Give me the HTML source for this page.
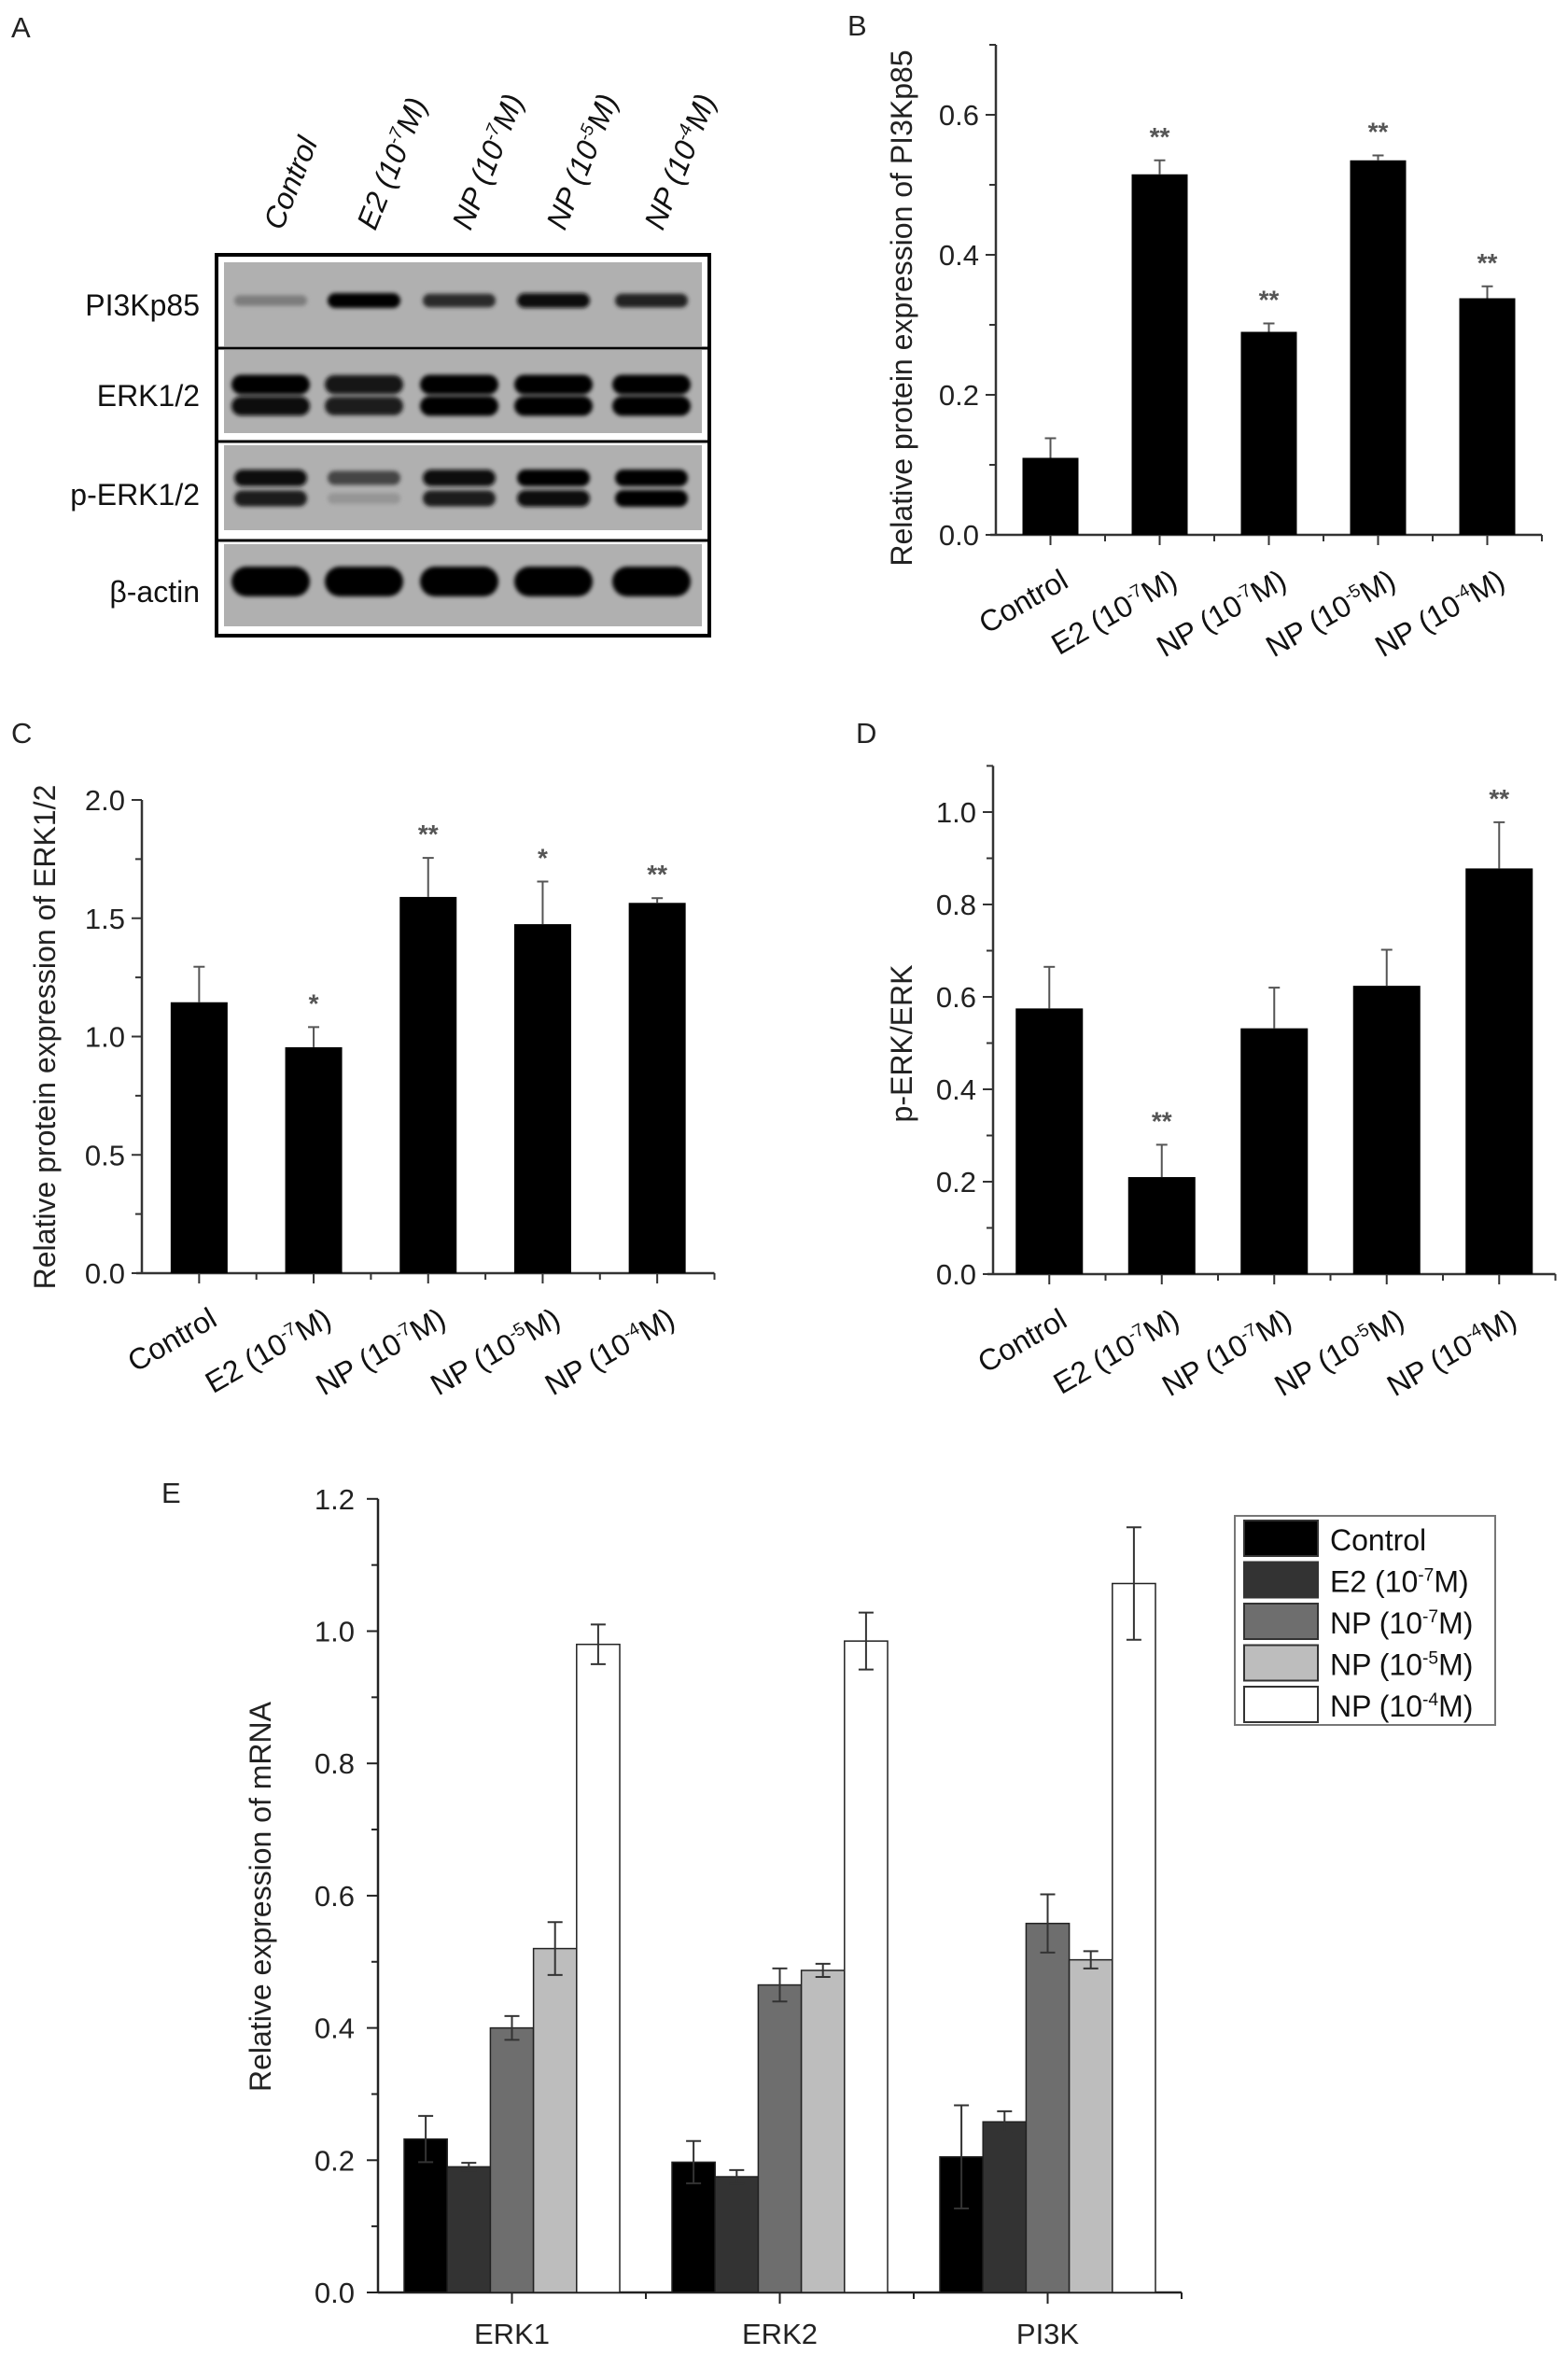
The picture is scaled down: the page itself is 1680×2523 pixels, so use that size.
<!DOCTYPE html>
<html><head><meta charset="utf-8"><style>
html,body{margin:0;padding:0;background:#fff;}
svg{display:block;font-family:"Liberation Sans",Arial,sans-serif;}
</style></head><body>
<svg id="fig" width="1680" height="2523" viewBox="0 0 1680 2523" xmlns="http://www.w3.org/2000/svg">
<defs><filter id="blur" x="-20%" y="-50%" width="140%" height="200%"><feGaussianBlur stdDeviation="2.2"/></filter></defs>
<g id="panelA"></g>
<g id="panelB"></g>
<g id="panelC"></g>
<g id="panelD"></g>
<g id="panelE"></g>
</svg>
<script>
// ---- data ----
const categories = ["Control","E2","NP","NP","NP"];
const catExp = [null,"-7","-7","-5","-4"];
const bValues = [0.11,0.515,0.29,0.535,0.338];
const bErrors = [0.028,0.02,0.012,0.007,0.017];
const bStars = ["","**","**","**","**"];
const bTicks = ["0.0","0.2","0.4","0.6"];
const cValues = [1.145,0.955,1.59,1.475,1.565];
const cErrors = [0.15,0.085,0.165,0.18,0.02];
const cStars = ["","*","**","*","**"];
const cTicks = ["0.0","0.5","1.0","1.5","2.0"];
const dValues = [0.575,0.21,0.532,0.624,0.878];
const dErrors = [0.09,0.07,0.088,0.078,0.1];
const dStars = ["","**","","","**"];
const dTicks = ["0.0","0.2","0.4","0.6","0.8","1.0"];
const eGroups = ["ERK1","ERK2","PI3K"];
const eSeries = ["Control","E2","NP","NP","NP"];
const eSeriesExp = [null,"-7","-7","-5","-4"];
const eControl = [0.232,0.197,0.205];
const eE2 = [0.19,0.175,0.258];
const eNP7 = [0.40,0.465,0.558];
const eNP5 = [0.52,0.487,0.503];
const eNP4 = [0.98,0.985,1.072];
const eControlErr = [0.035,0.032,0.078];
const eE2Err = [0.006,0.01,0.016];
const eNP7Err = [0.018,0.025,0.044];
const eNP5Err = [0.04,0.01,0.013];
const eNP4Err = [0.03,0.043,0.085];
const eTicks = ["0.0","0.2","0.4","0.6","0.8","1.0","1.2"];
const blotRows = ["PI3Kp85","ERK1/2","p-ERK1/2","β-actin"];
// band intensities per lane (0..1), visual estimates
const bandPI3K = [0.25,1,0.75,0.95,0.8];
const bandERKup = [1,0.9,1,1,1];
const bandERKlo = [0.95,0.85,1,1,1];
const bandPERKup = [0.95,0.6,0.95,1,1];
const bandPERKlo = [0.85,0.1,0.85,0.95,1];
const bandActin = [1,1,1,1,1];

const NS="http://www.w3.org/2000/svg";
function mk(tag,attrs,parent){const e=document.createElementNS(NS,tag);for(const k in attrs)e.setAttribute(k,attrs[k]);if(parent)parent.appendChild(e);return e;}
function catLabel(parent,name,exp,x,y,rot,size,italic,anchor){
  const t=mk('text',{x:x,y:y,'font-size':size,'text-anchor':anchor,transform:`rotate(${rot} ${x} ${y})`,fill:'#111'},parent);
  if(italic)t.setAttribute('font-style','italic');
  
  
  if(exp===null){t.textContent=name;return t;}
  const a=mk('tspan',{},t);a.textContent=name+" (10";
  const b=mk('tspan',{dy:-size*0.38,'font-size':size*0.6},t);b.textContent=exp;
  const c=mk('tspan',{dy:size*0.38},t);c.textContent="M)";
  return t;
}

// ---- generic bar chart (B, C, D) ----
function barChart(g,o){
  const y=v=>o.y0-v*o.ppu;
  const cx=i=>o.x0+o.step*(i+0.5);
  const xEnd=o.x0+o.step*o.values.length;
  const ax=mk('g',{},g);
  
  
  mk('line',{x1:o.x0,y1:y(o.top),x2:o.x0,y2:o.y0,stroke:'#333','stroke-width':2.5},ax);
  mk('line',{x1:o.x0-6,y1:o.y0,x2:xEnd,y2:o.y0,stroke:'#333','stroke-width':2.5},ax);
  for(let v=0;v<=o.top+1e-9;v+=o.minor){
    const isMaj=Math.abs(v/o.major-Math.round(v/o.major))<1e-6;
    mk('line',{x1:o.x0-(isMaj?11:7),y1:y(v),x2:o.x0,y2:y(v),stroke:'#333','stroke-width':2},ax);
  }
  o.ticks.forEach((tl,i)=>{
    const t=mk('text',{x:o.x0-18,y:y(parseFloat(tl))+11,'font-size':31,'text-anchor':'end',fill:'#222'},ax);
    
    
    t.textContent=tl;
  });
  for(let i=0;i<=o.values.length;i++){
    const xx=o.x0+o.step*i;
    if(i>0) mk('line',{x1:xx,y1:o.y0,x2:xx,y2:o.y0+7,stroke:'#333','stroke-width':2},ax);
    if(i<o.values.length) mk('line',{x1:cx(i),y1:o.y0,x2:cx(i),y2:o.y0+11,stroke:'#333','stroke-width':2},ax);
  }
  o.values.forEach((v,i)=>{
    const r=mk('rect',{x:cx(i)-o.bw/2,y:y(v),width:o.bw,height:v*o.ppu,fill:'#000'},g);
    
    
    const top=y(v+o.errors[i]);
    const eb=mk('g',{stroke:'#555','stroke-width':2},g);
    
    
    mk('line',{x1:cx(i),y1:y(v),x2:cx(i),y2:top},eb);
    mk('line',{x1:cx(i)-6,y1:top,x2:cx(i)+6,y2:top},eb);
    if(o.stars[i]){
      const s=mk('text',{x:cx(i),y:top-16,'font-size':28,'text-anchor':'middle',fill:'#555','font-weight':'bold'},g);
      
      
      s.textContent=o.stars[i];
    }
    catLabel(g,categories[i],catExp[i],cx(i)+21,o.y0+55,-30,32,false,'end');
  });
  const yl=mk('text',{x:o.labelX,y:o.labelY,'font-size':32,'text-anchor':'middle',transform:`rotate(-90 ${o.labelX} ${o.labelY})`,fill:'#222'},g);
  
  
  yl.textContent=o.label;
  const pl=mk('text',{x:o.letterX,y:o.letterY,'font-size':31,fill:'#222'},g);
  
  
  pl.textContent=o.letter;
}

barChart(document.getElementById('panelB'),{x0:1067,step:117,y0:573,ppu:750,top:0.7,major:0.2,minor:0.1,bw:60,
  values:bValues,errors:bErrors,stars:bStars,ticks:bTicks,label:"Relative protein expression of PI3Kp85",labelX:977,labelY:330,letter:"B",letterX:908,letterY:38});
barChart(document.getElementById('panelC'),{x0:152,step:122.7,y0:1364,ppu:253.5,top:2.0,major:0.5,minor:0.25,bw:61,
  values:cValues,errors:cErrors,stars:cStars,ticks:cTicks,label:"Relative protein expression of ERK1/2",labelX:59,labelY:1111,letter:"C",letterX:12,letterY:796});
barChart(document.getElementById('panelD'),{x0:1064,step:120.5,y0:1365,ppu:495,top:1.1,major:0.2,minor:0.1,bw:72,
  values:dValues,errors:dErrors,stars:dStars,ticks:dTicks,label:"p-ERK/ERK",labelX:977,labelY:1118,letter:"D",letterX:917,letterY:796});

// ---- panel E ----
(function(){
  const g=document.getElementById('panelE');
  const x0=405,step=287,y0=2456,ppu=708.5,top=1.2,bw=46.2;
  const y=v=>y0-v*ppu;
  const series=[eControl,eE2,eNP7,eNP5,eNP4];
  const errs=[eControlErr,eE2Err,eNP7Err,eNP5Err,eNP4Err];
  const fills=['#000','#333','#6e6e6e','#bdbdbd','#fff'];
  const xEnd=x0+step*eGroups.length;
  const ax=mk('g',{},g);
  
  
  mk('line',{x1:x0,y1:y(top),x2:x0,y2:y0,stroke:'#222','stroke-width':2.5},ax);
  mk('line',{x1:x0,y1:y0,x2:xEnd,y2:y0,stroke:'#222','stroke-width':2.5},ax);
  for(let k=0;k<=12;k++){const v=k*0.1;mk('line',{x1:x0-(k%2?7:12),y1:y(v),x2:x0,y2:y(v),stroke:'#222','stroke-width':2},ax);}
  eTicks.forEach(tl=>{
    const t=mk('text',{x:x0-25,y:y(parseFloat(tl))+11,'font-size':31,'text-anchor':'end',fill:'#222'},ax);
    
    
    t.textContent=tl;
  });
  eGroups.forEach((gn,i)=>{
    const c=x0+step*(i+0.5);
    mk('line',{x1:c,y1:y0,x2:c,y2:y0+12,stroke:'#222','stroke-width':2},ax);
    mk('line',{x1:x0+step*(i+1),y1:y0,x2:x0+step*(i+1),y2:y0+7,stroke:'#222','stroke-width':2},ax);
    const t=mk('text',{x:c,y:y0+55,'font-size':31,'text-anchor':'middle',fill:'#222'},ax);
    
    
    t.textContent=gn;
    series.forEach((s,j)=>{
      const bx=c-bw*2.5+bw*j;
      const r=mk('rect',{x:bx,y:y(s[i]),width:bw,height:s[i]*ppu,fill:fills[j],stroke:'#222','stroke-width':1.5},g);
      
      
      const m=bx+bw/2,e=errs[j][i];
      const eb=mk('g',{stroke:'#333','stroke-width':2},g);
      
      
      mk('line',{x1:m,y1:y(s[i]+e),x2:m,y2:y(s[i]-e)},eb);
      mk('line',{x1:m-8,y1:y(s[i]+e),x2:m+8,y2:y(s[i]+e)},eb);
      mk('line',{x1:m-8,y1:y(s[i]-e),x2:m+8,y2:y(s[i]-e)},eb);
    });
  });
  const yl=mk('text',{x:290,y:2032,'font-size':32,'text-anchor':'middle',transform:'rotate(-90 290 2032)',fill:'#222'},g);
  
  
  yl.textContent="Relative expression of mRNA";
  const pl=mk('text',{x:173,y:1610,'font-size':31,fill:'#222'},g);
  
  
  pl.textContent="E";
  const lg=mk('g',{},g);
  
  
  mk('rect',{x:1323,y:1624,width:279,height:224,fill:'#fff',stroke:'#777','stroke-width':2},lg);
  eSeries.forEach((n,j)=>{
    const ry=1628+j*44.5;
    const le=mk('g',{},lg);
    
    
    mk('rect',{x:1333,y:ry+1,width:79,height:38,fill:fills[j],stroke:'#333','stroke-width':2},le);
    catLabel(le,n,eSeriesExp[j],1425,ry+33,0,32,false,'start');
  });
})();

// ---- panel A ----
(function(){
  const g=document.getElementById('panelA');
  const pl=mk('text',{x:12,y:40,'font-size':31,fill:'#222'},g);
  
  
  pl.textContent="A";
  const lanes=[290,390,492,593,698];
  lanes.forEach((lx,i)=>catLabel(g,categories[i],catExp[i],lx+12,248,-68,32,true,'start'));
  mk('rect',{x:232,y:273,width:528,height:408,fill:'#fff',stroke:'#000','stroke-width':4},g);
  const strips=[[281,371],[375,464],[477,568],[583,671]];
  const seps=[373,473,579];
  strips.forEach((s,i)=>{
    const r=mk('rect',{x:240,y:s[0],width:512,height:s[1]-s[0],fill:'#b0b0b0'},g);
    
    
    const t=mk('text',{x:214,y:[327,424,530,634][i]+11,'font-size':32,'text-anchor':'end',fill:'#111'},g);
    
    
    t.textContent=blotRows[i];
  });
  seps.forEach(sy=>mk('line',{x1:234,y1:sy,x2:758,y2:sy,stroke:'#000','stroke-width':3},g));
  const bg=mk('g',{filter:'url(#blur)'},g);
  function band(cx,cy,w,h,k){
    if(k<=0.05)return;
    const shade=Math.round(165-162*k);
    const hh=h*(0.6+0.4*k);
    const r=mk('rect',{x:cx-w/2,y:cy-hh/2,width:w,height:hh,rx:hh/2,fill:`rgb(${shade},${shade},${shade})`},bg);
    
    
  }
  lanes.forEach((lx,i)=>{
    band(lx,322,78,16,bandPI3K[i]);
    band(lx,412,84,21,bandERKup[i]);
    band(lx,435,84,21,bandERKlo[i]);
    band(lx,512,78,18,bandPERKup[i]);
    band(lx,534,78,18,bandPERKlo[i]);
    band(lx,623,84,32,bandActin[i]);
  });
})();
</script>
</body></html>
